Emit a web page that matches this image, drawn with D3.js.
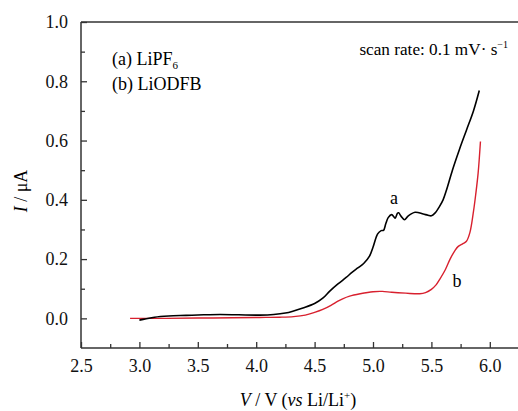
<!DOCTYPE html>
<html><head><meta charset="utf-8">
<script src="https://cdn.jsdelivr.net/npm/d3@7"></script>
<style>
html,body{margin:0;padding:0;background:#fff;}
svg{display:block;}
svg text{font-family:"Liberation Serif","Times New Roman",serif !important;}
</style></head>
<body><svg id="c" width="518" height="411"></svg>
<script>
// Series a: LiPF6 (black)
const voltageA = [3.00,3.05,3.13,3.25,3.40,3.55,3.69,3.85,4.03,4.15,4.25,4.32,4.40,4.50,4.57,4.63,4.70,4.77,4.82,4.87,4.92,4.97,5.00,5.04,5.07,5.09,5.11,5.13,5.16,5.18,5.19,5.21,5.22,5.24,5.27,5.30,5.36,5.43,5.47,5.50,5.53,5.57,5.60,5.63,5.68,5.74,5.80,5.86,5.91];
const currentA = [-0.006,-0.002,0.004,0.008,0.010,0.012,0.013,0.012,0.011,0.013,0.018,0.025,0.035,0.050,0.068,0.092,0.116,0.138,0.155,0.170,0.185,0.210,0.240,0.285,0.296,0.297,0.320,0.340,0.350,0.342,0.338,0.355,0.356,0.345,0.333,0.345,0.358,0.352,0.348,0.346,0.355,0.378,0.400,0.434,0.500,0.570,0.635,0.700,0.769];
// Series b: LiODFB (red)
const voltageB = [2.92,3.00,3.23,3.50,3.80,4.03,4.20,4.32,4.42,4.50,4.57,4.64,4.70,4.74,4.80,4.89,5.00,5.08,5.16,5.28,5.40,5.45,5.50,5.54,5.57,5.62,5.66,5.70,5.73,5.77,5.80,5.83,5.86,5.88,5.90,5.92];
const currentB = [0.000,0.000,0.000,0.001,0.002,0.003,0.004,0.006,0.011,0.020,0.030,0.044,0.058,0.066,0.075,0.083,0.090,0.091,0.088,0.085,0.083,0.087,0.098,0.113,0.131,0.165,0.200,0.228,0.243,0.252,0.260,0.290,0.360,0.420,0.490,0.597];
const xTicks = [2.5,3.0,3.5,4.0,4.5,5.0,5.5,6.0];
const xMinor = [2.75,3.25,3.75,4.25,4.75,5.25,5.75];
const yTicks = [0.0,0.2,0.4,0.6,0.8,1.0];
const yMinor = [0.1,0.3,0.5,0.7,0.9];

const svg = d3.select("#c");
const L = 81, R = 519, T = 22, B = 348;
const x = d3.scaleLinear().domain([2.5, 6.25]).range([L, R]);
const y = d3.scaleLinear().domain([-0.1, 1.0]).range([B, T]);
const axisColor = "#333";
const FS = 18;

// frame lines: left, bottom, top
svg.append("line").attr("x1",L).attr("x2",L).attr("y1",T).attr("y2",B).attr("stroke",axisColor).attr("stroke-width",1.5);
svg.append("line").attr("x1",L).attr("x2",R).attr("y1",B).attr("y2",B).attr("stroke",axisColor).attr("stroke-width",1.5);
svg.append("line").attr("x1",L).attr("x2",R).attr("y1",T).attr("y2",T).attr("stroke",axisColor).attr("stroke-width",1.5);

// x axis (ticks inward)
const xAx = d3.axisBottom(x).tickValues(xTicks).tickFormat(d3.format(".1f")).tickSizeInner(-6).tickSizeOuter(0).tickPadding(11);
const gx = svg.append("g").attr("transform",`translate(0,${B})`).call(xAx);
gx.select(".domain").remove();
gx.selectAll("line").attr("stroke",axisColor).attr("stroke-width",1.3);
gx.selectAll("text").attr("font-size",FS).attr("fill","#111");
const gxm = svg.append("g").attr("transform",`translate(0,${B})`).call(d3.axisBottom(x).tickValues(xMinor).tickFormat("").tickSizeInner(-4).tickSizeOuter(0));
gxm.select(".domain").remove();
gxm.selectAll("line").attr("stroke",axisColor).attr("stroke-width",1.3);

// y axis
const yAx = d3.axisLeft(y).tickValues(yTicks).tickFormat(d3.format(".1f")).tickSizeInner(-6).tickSizeOuter(0).tickPadding(13);
const gy = svg.append("g").attr("transform",`translate(${L},0)`).call(yAx);
gy.select(".domain").remove();
gy.selectAll("line").attr("stroke",axisColor).attr("stroke-width",1.3);
gy.selectAll("text").attr("font-size",FS).attr("fill","#111");
const gym = svg.append("g").attr("transform",`translate(${L},0)`).call(d3.axisLeft(y).tickValues(yMinor).tickFormat("").tickSizeInner(-4).tickSizeOuter(0));
gym.select(".domain").remove();
gym.selectAll("line").attr("stroke",axisColor).attr("stroke-width",1.3);

// curves
const line = d3.line().x(d=>x(d[0])).y(d=>y(d[1])).curve(d3.curveCatmullRom.alpha(0.5));
const dataB = voltageB.map((v,i)=>[v,currentB[i]]);
const dataA = voltageA.map((v,i)=>[v,currentA[i]]);
svg.append("path").datum(dataB).attr("d",line).attr("fill","none").attr("stroke","#d8202e").attr("stroke-width",1.4);
svg.append("path").datum(dataA).attr("d",line).attr("fill","none").attr("stroke","#000").attr("stroke-width",1.6);

// curve labels
svg.append("text").attr("x",x(5.18)).attr("y",y(0.385)).attr("font-size",FS).attr("text-anchor","middle").text("a");
svg.append("text").attr("x",x(5.72)).attr("y",y(0.105)).attr("font-size",FS).attr("text-anchor","middle").text("b");

// legend text
const la = svg.append("text").attr("x",112).attr("y",65).attr("font-size",FS);
la.append("tspan").text("(a) LiPF");
la.append("tspan").attr("font-size",11).attr("dy",4).text("6");
svg.append("text").attr("x",112).attr("y",90).attr("font-size",FS).text("(b) LiODFB");

// scan rate
const sr = svg.append("text").attr("x",508).attr("y",55).attr("font-size",17.2).attr("text-anchor","end");
sr.append("tspan").text("scan rate: 0.1 mV\u00b7 s");
sr.append("tspan").attr("font-size",10).attr("dy",-7).text("\u22121");

// y label
const yl = svg.append("text").attr("transform","translate(27,191) rotate(-90)").attr("text-anchor","middle").attr("font-size",FS);
yl.append("tspan").attr("font-style","italic").text("I");
yl.append("tspan").text(" / \u03bcA");

// x label
const xl = svg.append("text").attr("x",298).attr("y",406).attr("text-anchor","middle").attr("font-size",FS);
xl.append("tspan").attr("font-style","italic").text("V");
xl.append("tspan").text(" / V (");
xl.append("tspan").attr("font-style","italic").text("vs");
xl.append("tspan").text(" Li/Li");
xl.append("tspan").attr("font-size",11).attr("dy",-7).text("+");
xl.append("tspan").attr("dy",7).text(")");
</script></body></html>
